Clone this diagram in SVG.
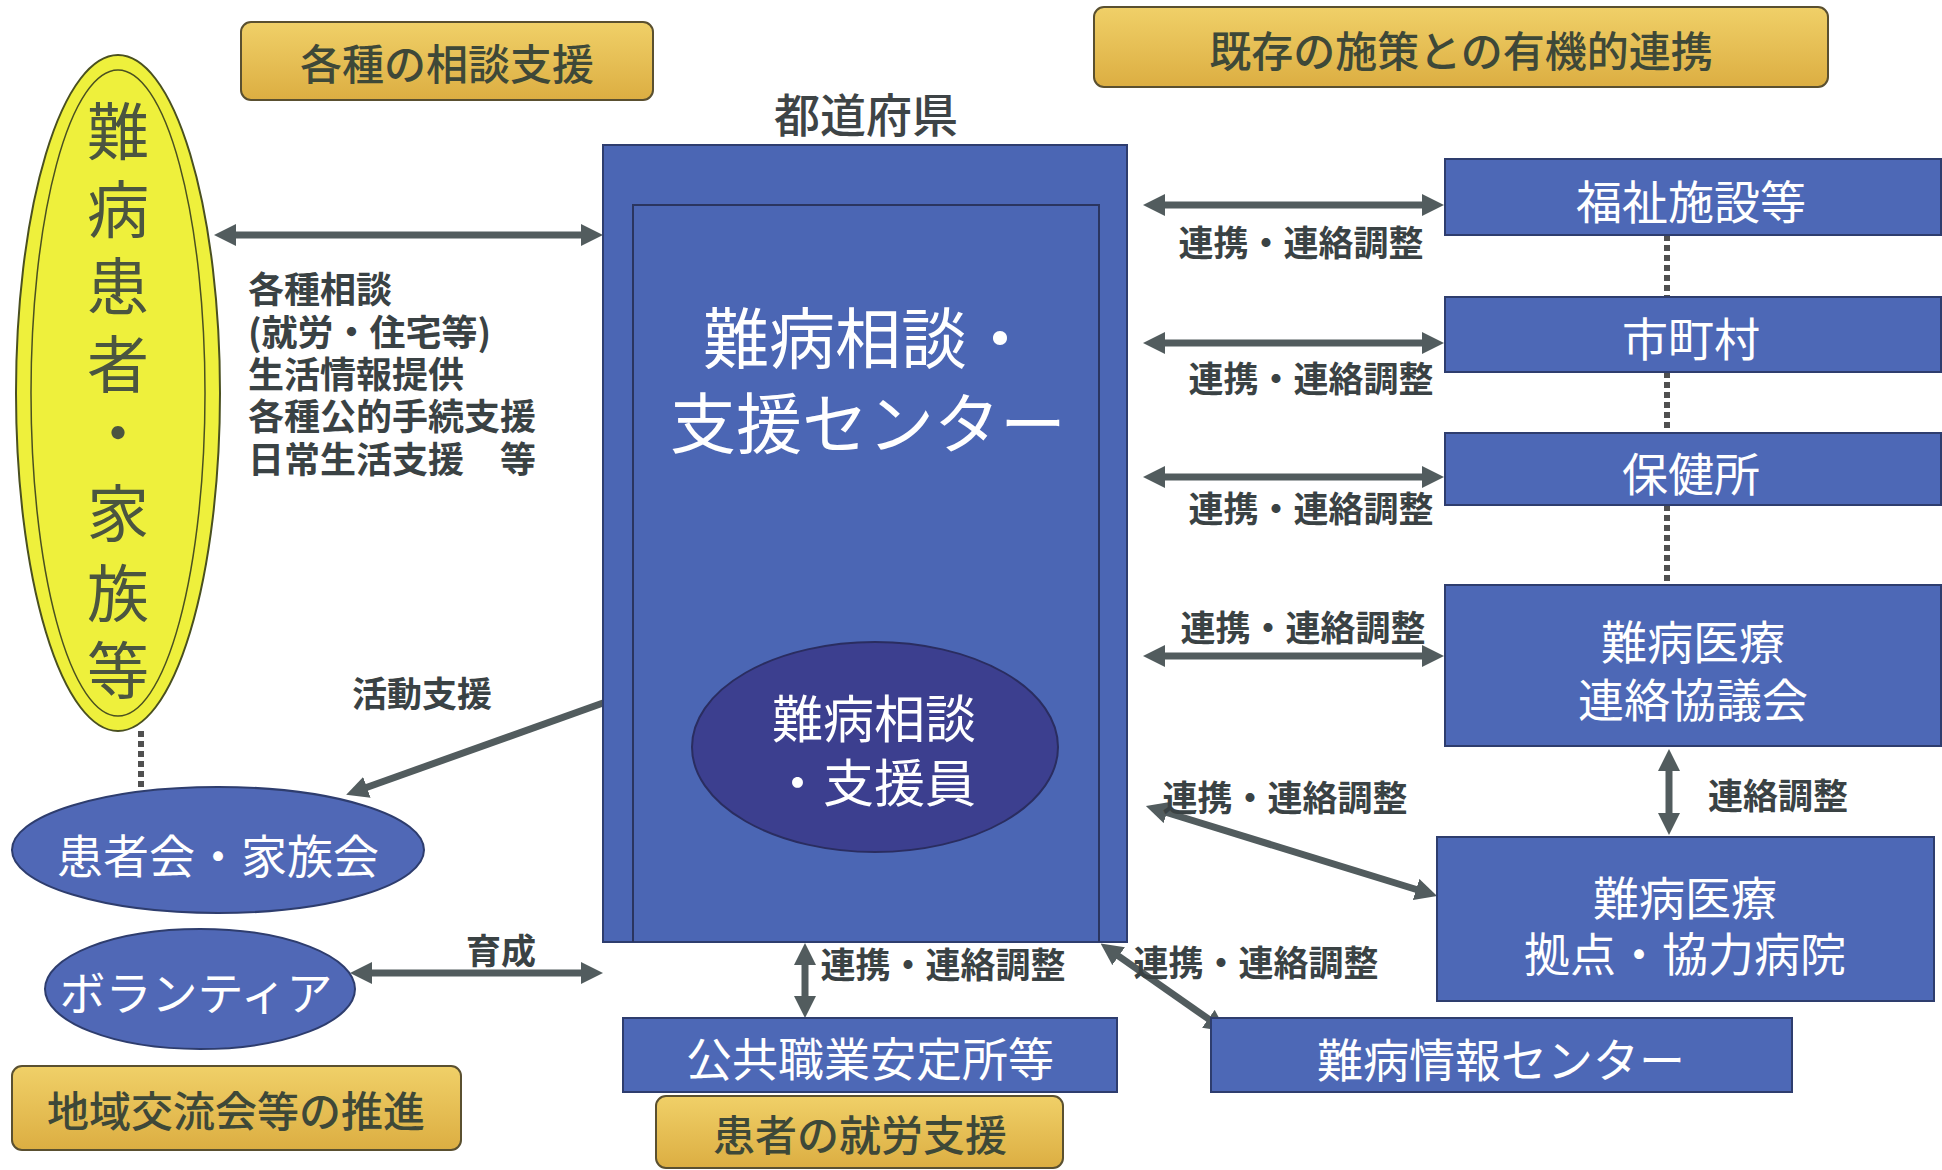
<svg xmlns="http://www.w3.org/2000/svg" width="1942" height="1170" viewBox="0 0 1942 1170">
<defs>
<style>
text{font-family:"Noto Sans CJK JP","Noto Sans CJK SC",sans-serif;text-anchor:middle;dominant-baseline:central}
text.st{text-anchor:start}
.tag{fill:url(#gold);stroke:#5a5030;stroke-width:2}
.tagt{fill:#3e4838;font-size:42px;font-weight:500}
.box{fill:#4d68b6;stroke:#2e3d6e;stroke-width:2}
.wt{fill:#ffffff;font-size:46px}
.big{font-size:66px}
.mid{font-size:51px}
.lbl{fill:#3a4244;font-size:35px;font-weight:bold}
.con{stroke:#525c5e;stroke-width:7;fill:none}
.dot{stroke:#505050;stroke-width:6;stroke-dasharray:6 4;fill:none}
.oval{fill:#5068b6;stroke:#2e3d6e;stroke-width:2}
</style>
<linearGradient id="gold" x1="0" y1="0" x2="0" y2="1">
<stop offset="0" stop-color="#f0d068"/>
<stop offset="1" stop-color="#dcae42"/>
</linearGradient>
<marker id="ah" viewBox="0 0 22 22" markerWidth="22" markerHeight="22" refX="2" refY="11" orient="auto-start-reverse" markerUnits="userSpaceOnUse">
<path d="M0,0 L22,11 L0,22 z" fill="#525c5e"/>
</marker>
</defs>
<rect width="1942" height="1170" fill="#ffffff"/>

<g id="tag-soudan"><rect class="tag" x="241" y="22" width="412" height="78" rx="10"/><text class="tagt" x="447" y="61">各種の相談支援</text></g>
<g id="tag-renkei"><rect class="tag" x="1094" y="7" width="734" height="80" rx="10"/><text class="tagt" x="1461" y="48">既存の施策との有機的連携</text></g>
<g id="tag-chiiki"><rect class="tag" x="12" y="1066" width="449" height="84" rx="10"/><text class="tagt" x="236" y="1108">地域交流会等の推進</text></g>
<g id="tag-shurou"><rect class="tag" x="656" y="1096" width="407" height="72" rx="10"/><text class="tagt" x="860" y="1132">患者の就労支援</text></g>

<g id="todofuken"><text x="866" y="112" fill="#3e4446" font-size="46" font-weight="500">都道府県</text></g>

<g id="connectors">
<path class="dot" d="M141,731 V793"/>
<path class="dot" d="M1667,235 V297 M1667,372 V433 M1667,505 V585"/>
<path class="con" d="M234,235 H583" marker-start="url(#ah)" marker-end="url(#ah)"/>
<path class="con" d="M603,703 L365,788" marker-end="url(#ah)"/>
<path class="con" d="M370,973 H583" marker-start="url(#ah)" marker-end="url(#ah)"/>
<path class="con" d="M1163,205 H1424" marker-start="url(#ah)" marker-end="url(#ah)"/>
<path class="con" d="M1163,343 H1424" marker-start="url(#ah)" marker-end="url(#ah)"/>
<path class="con" d="M1163,477 H1424" marker-start="url(#ah)" marker-end="url(#ah)"/>
<path class="con" d="M1163,656 H1424" marker-start="url(#ah)" marker-end="url(#ah)"/>
<path class="con" d="M1165,812 L1418,890" marker-start="url(#ah)" marker-end="url(#ah)"/>
<path class="con" d="M1669,769 V815" marker-start="url(#ah)" marker-end="url(#ah)"/>
<path class="con" d="M1117,955 L1210,1020" marker-start="url(#ah)" marker-end="url(#ah)"/>
<path class="con" d="M805,963 V998" marker-start="url(#ah)" marker-end="url(#ah)"/>
<text class="lbl" x="422" y="691">活動支援</text>
<text class="lbl" x="501" y="948">育成</text>
<text class="lbl" x="1301" y="240">連携・連絡調整</text>
<text class="lbl" x="1311" y="376">連携・連絡調整</text>
<text class="lbl" x="1311" y="506">連携・連絡調整</text>
<text class="lbl" x="1303" y="625">連携・連絡調整</text>
<text class="lbl" x="1285" y="795">連携・連絡調整</text>
<text class="lbl" x="1778" y="793">連絡調整</text>
<text class="lbl" x="1256" y="960">連携・連絡調整</text>
<text class="lbl" x="943" y="962">連携・連絡調整</text>
</g>

<g id="patients">
<ellipse cx="118" cy="393" rx="102" ry="338" fill="#eef03c" stroke="#4a5020" stroke-width="2"/>
<ellipse cx="118" cy="393" rx="87" ry="323" fill="none" stroke="#4a5020" stroke-width="1.5"/>
<text fill="#4b5540" font-size="62"><tspan x="118" y="128">難</tspan><tspan x="118" y="206">病</tspan><tspan x="118" y="283">患</tspan><tspan x="118" y="361">者</tspan><tspan x="118" y="430">・</tspan><tspan x="118" y="510">家</tspan><tspan x="118" y="590">族</tspan><tspan x="118" y="667">等</tspan></text>
</g>

<g id="list">
<text class="st" fill="#3a4244" font-size="36" font-weight="bold"><tspan x="248" y="287">各種相談</tspan><tspan x="248" y="330">(就労・住宅等)</tspan><tspan x="248" y="372">生活情報提供</tspan><tspan x="248" y="414">各種公的手続支援</tspan><tspan x="248" y="457">日常生活支援　等</tspan></text>
</g>

<g id="center">
<rect x="603" y="145" width="524" height="797" fill="#4b66b4" stroke="#2e3d6e" stroke-width="2"/>
<path d="M633,942 V205 H1099 V942" fill="none" stroke="#2a3560" stroke-width="2"/>
<text class="wt big" x="868" y="334">難病相談・</text>
<text class="wt big" x="868" y="419">支援センター</text>
</g>

<g id="staff">
<ellipse cx="875" cy="747" rx="183" ry="105" fill="#3c3f8f" stroke="#2a2d60" stroke-width="2"/>
<text class="wt mid" x="874" y="716">難病相談</text>
<text class="wt mid" x="874" y="780">・支援員</text>
</g>

<g id="kanjakai"><ellipse class="oval" cx="218" cy="850" rx="206" ry="63"/><text class="wt" x="218" y="853">患者会・家族会</text></g>
<g id="volunteer"><ellipse class="oval" cx="200" cy="989" rx="155" ry="60"/><text class="wt" x="196" y="990">ボランティア</text></g>

<g id="fukushi"><rect class="box" x="1445" y="159" width="496" height="76"/><text class="wt" x="1691" y="199">福祉施設等</text></g>
<g id="shichoson"><rect class="box" x="1445" y="297" width="496" height="75"/><text class="wt" x="1691" y="336">市町村</text></g>
<g id="hokenjo"><rect class="box" x="1445" y="433" width="496" height="72"/><text class="wt" x="1691" y="471">保健所</text></g>
<g id="kyogikai"><rect class="box" x="1445" y="585" width="496" height="161"/><text class="wt" x="1693" y="639">難病医療</text><text class="wt" x="1693" y="697">連絡協議会</text></g>
<g id="byoin"><rect class="box" x="1437" y="837" width="497" height="164"/><text class="wt" x="1685" y="895">難病医療</text><text class="wt" x="1685" y="951">拠点・協力病院</text></g>
<g id="joho"><rect class="box" x="1211" y="1018" width="581" height="74"/><text class="wt" x="1501" y="1057">難病情報センター</text></g>
<g id="shokuan"><rect class="box" x="623" y="1018" width="494" height="74"/><text class="wt" x="870" y="1056">公共職業安定所等</text></g>
</svg>
